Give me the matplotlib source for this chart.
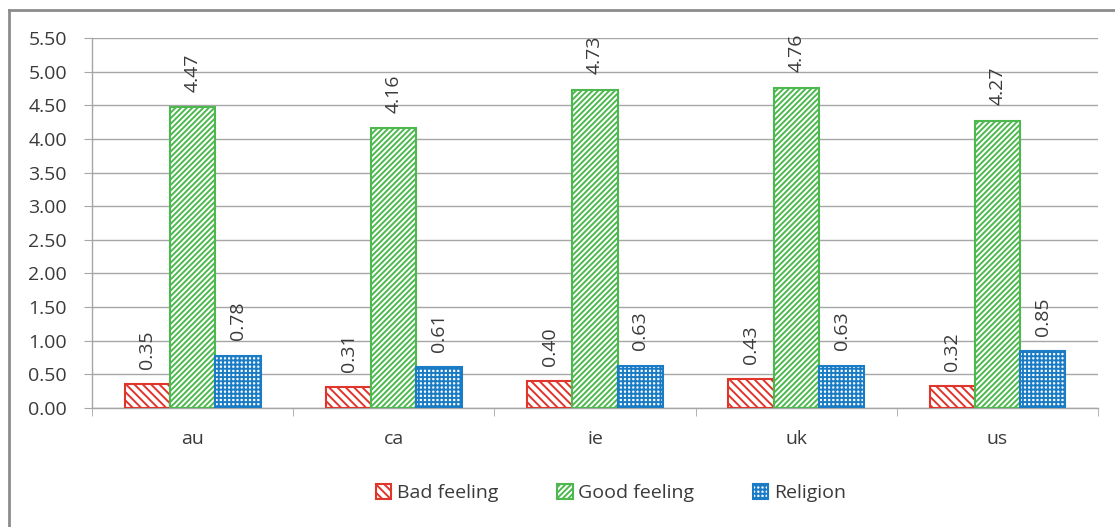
import matplotlib
matplotlib.use('Agg')
import numpy as np
from matplotlib import pyplot as plt
from matplotlib.lines import Line2D

countries = ['au', 'ca', 'ie', 'uk', 'us']
bad_feeling = [0.35, 0.31, 0.40, 0.43, 0.32]
good_feeling = [4.47, 4.16, 4.73, 4.76, 4.27]
religion = [0.78, 0.61, 0.63, 0.63, 0.85]
yticks = np.arange(0, 5.51, 0.5)

series = [
	('Bad feeling', bad_feeling, '#E0352B', '\\' * 4),
	('Good feeling', good_feeling, '#4DB84E', '/' * 6),
	('Religion', religion, '#1B7CC6', '+' * 4),
]


def main():
	plt.rcParams['font.family'] = ['Open Sans', 'DejaVu Sans']
	plt.rcParams['hatch.linewidth'] = 1.4
	text_col = '#3A3A3A'
	grid_col = '#A6A6A6'

	fig = plt.figure(figsize=(11.15, 5.27), dpi=100)
	ax = fig.add_axes([0.0825, 0.2258, 0.9023, 0.7022])

	x = np.arange(len(countries))
	w = 0.225
	handles = []
	for i, (name, vals, col, hatch) in enumerate(series):
		bars = ax.bar(x + (i - 1) * w, vals, w, facecolor='white', edgecolor=col,
			hatch=hatch, linewidth=1.5, zorder=3)
		for b, v in zip(bars, vals):
			ax.annotate('%.2f' % v, (b.get_x() + b.get_width() / 2, v),
				xytext=(0, 11), textcoords='offset points', rotation=90,
				ha='center', va='bottom', fontsize=14, color=text_col)
		handles.append(plt.Rectangle((0, 0), 1, 1, facecolor='white',
			edgecolor=col, hatch=hatch, linewidth=1.5))

	ax.set_xlim(-0.5, len(countries) - 0.5)
	ax.set_ylim(0, 5.5)
	ax.set_yticks(yticks)
	ax.set_yticklabels(['%.2f' % t for t in yticks])
	ax.set_xticks(x)
	ax.set_xticklabels(countries)
	ax.set_xticks(np.arange(-0.5, len(countries), 1), minor=True)
	ax.tick_params(axis='x', which='major', length=0, pad=16, labelsize=14, colors=text_col)
	ax.tick_params(axis='x', which='minor', length=6, color=grid_col)
	ax.tick_params(axis='y', length=6, color=grid_col, labelsize=14, colors=text_col, pad=12)
	for lab in ax.get_yticklabels():
		lab.set_color(text_col)
	ax.yaxis.grid(True, color=grid_col, linewidth=1, zorder=0)
	ax.set_axisbelow(True)
	for s in ['top', 'right']:
		ax.spines[s].set_visible(False)
	for s in ['left', 'bottom']:
		ax.spines[s].set_color(grid_col)
		ax.spines[s].set_linewidth(1)

	leg = fig.legend(handles, [s[0] for s in series], loc='center',
		bbox_to_anchor=(0.548, 0.064), ncol=3, frameon=False, fontsize=14,
		handlelength=0.8, handleheight=0.8, handletextpad=0.3, columnspacing=3.0)
	for t in leg.get_texts():
		t.set_color(text_col)

	# outer chart border (left and top edges visible)
	fig.add_artist(Line2D([9 / 1115, 9 / 1115], [-0.01, 1 - 10 / 527],
		transform=fig.transFigure, color='#8C8C8C', linewidth=2))
	fig.add_artist(Line2D([9 / 1115, 1.01], [1 - 10 / 527, 1 - 10 / 527],
		transform=fig.transFigure, color='#8C8C8C', linewidth=2))

	fig.savefig('out.png', dpi=100)


if __name__ == "__main__":
	main()
